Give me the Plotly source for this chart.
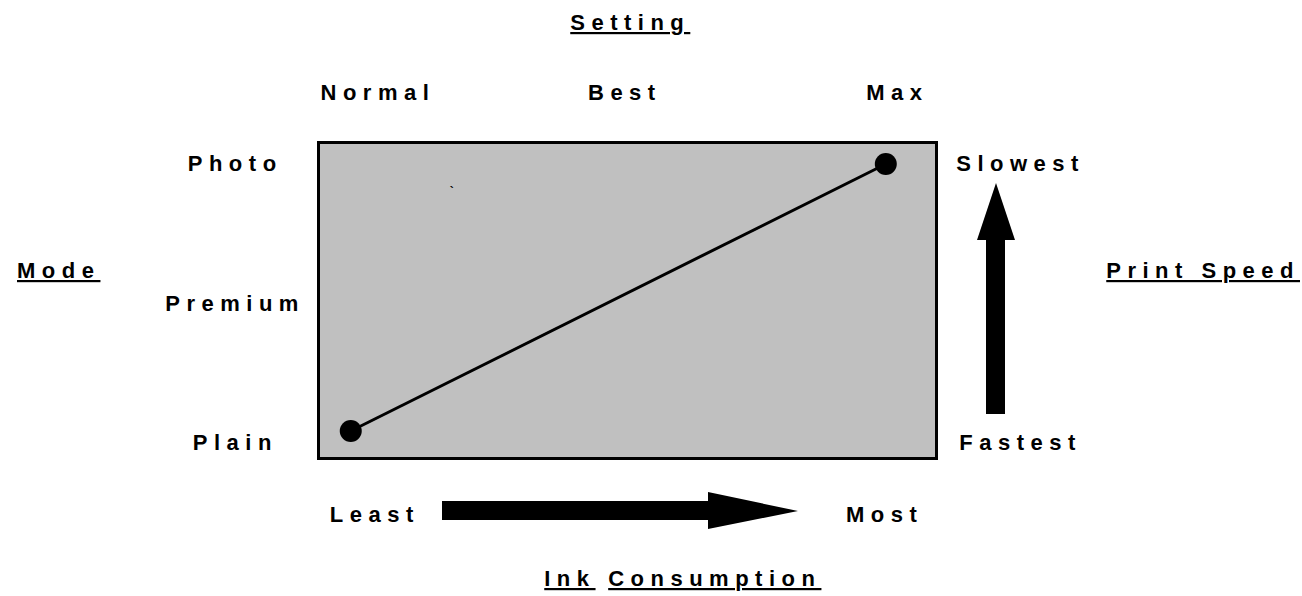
import plotly.graph_objects as go

# ---- data ----
setting_labels = ["Normal", "Best", "Max"]
mode_labels = ["Photo", "Premium", "Plain"]
speed_labels = ["Slowest", "Fastest"]
ink_labels = ["Least", "Most"]
ink_consumption = [0.05, 0.92]   # relative ink consumption (x)
print_time = [0.083, 0.936]      # relative print time (y)

# ---- layout geometry ----
W, H = 1302, 596
PL, PR, PT, PB = 320, 935, 144, 457   # plot area in pixels


def px(x):
    return (x - PL) / (PR - PL)


def py(y):
    return (PB - y) / (PB - PT)


FONT = dict(family="Liberation Sans, Arial, sans-serif", size=22, color="black", weight="bold")

fig = go.Figure()
fig.add_trace(go.Scatter(
    x=ink_consumption, y=print_time, mode="lines+markers",
    line=dict(color="black", width=3),
    marker=dict(color="black", size=22, symbol="circle"),
    cliponaxis=False, showlegend=False, hoverinfo="skip",
))

ann = []


def add(text, x, y, size=22):
    f = dict(FONT)
    f["size"] = size
    ann.append(dict(text=text, x=px(x), y=py(y), xref="paper", yref="paper",
                    showarrow=False, xanchor="center", yanchor="middle", font=f))


sp = 3  # compensate trailing letter spacing
add("<u>Setting</u>", 627 + sp, 23)
for lab, x in zip(setting_labels, [375, 622, 895]):
    add(lab, x + sp, 92)
for lab, y in zip(mode_labels, [163, 303, 442]):
    add(lab, 232 + sp, y)
add("<u>Mode</u>", 55 + sp, 270)
for lab, y in zip(speed_labels, [163, 442]):
    add(lab, 1018 + sp, y)
add("<u>Print Speed</u>", 1200 + sp, 270)
for lab, x in zip(ink_labels, [372, 882]):
    add(lab, x + sp, 514)
add("<u>Ink</u> <u>Consumption</u>", 680 + sp, 578)
add("`", 455, 192, size=12)


def path(points):
    return "M " + " L ".join(f"{px(a)},{py(b)}" for a, b in points) + " Z"


up_arrow = [(986, 414), (1005, 414), (1005, 240), (1015, 240), (996, 183), (977, 240), (986, 240)]
right_arrow = [(442, 501), (708, 501), (708, 492), (798, 511), (708, 529), (708, 520), (442, 520)]
shapes = [dict(type="path", path=path(p), xref="paper", yref="paper",
               fillcolor="black", line=dict(width=0)) for p in (up_arrow, right_arrow)]

axis = dict(range=[0, 1], showgrid=False, zeroline=False, showticklabels=False, ticks="",
            showline=True, mirror=True, linecolor="black", linewidth=3, fixedrange=True)

fig.update_layout(
    width=W, height=H, autosize=False,
    margin=dict(l=PL, r=W - PR, t=PT, b=H - PB, pad=0),
    paper_bgcolor="white", plot_bgcolor="#C0C0C0",
    xaxis=axis, yaxis=axis,
    annotations=ann, shapes=shapes,
)

post = ("var s=document.createElement('style');"
        "s.innerHTML='body{margin:0;overflow:hidden;} .annotation-text{letter-spacing:6.5px;}';"
        "document.head.appendChild(s);")
fig.write_html("out.html", post_script=post, config={"displayModeBar": False})
